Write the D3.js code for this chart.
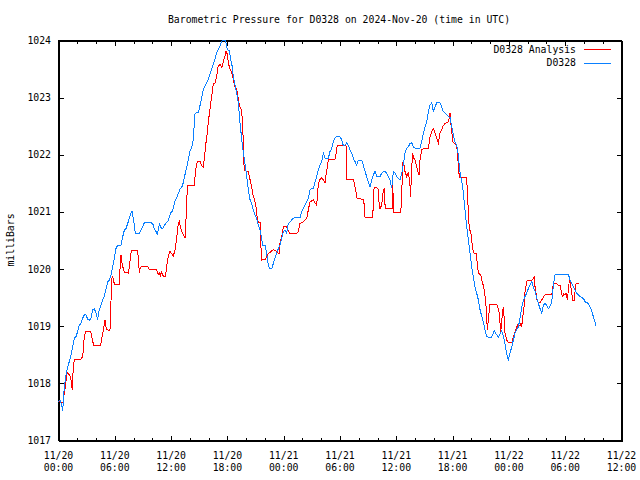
<!DOCTYPE html>
<html>
<head>
<meta charset="utf-8">
<script src="https://cdn.jsdelivr.net/npm/d3@7"></script>
<style>
html,body{margin:0;padding:0;background:#fff;}
svg{display:block;}
text{font-family:"DejaVu Sans Mono","Liberation Mono",monospace;font-size:9.8px;fill:#000;}
</style>
</head>
<body>
<script>
// ---- DATA ----
const chartTitle = "Barometric Pressure for D0328 on 2024-Nov-20 (time in UTC)";
const yLabel = "milliBars";
const seriesNames = ["D0328 Analysis", "D0328"];
const seriesColors = ["#ff0000", "#0a80ff"];
// x tick labels (every 6 hours from 11/20 00:00 UTC)
const xTickHours = [0, 6, 12, 18, 24, 30, 36, 42, 48, 54, 60];
const xTickDates = ["11/20","11/20","11/20","11/20","11/21","11/21","11/21","11/21","11/22","11/22","11/22"];
const xTickTimes = ["00:00","06:00","12:00","18:00","00:00","06:00","12:00","18:00","00:00","06:00","12:00"];
const yTicks = [1017, 1018, 1019, 1020, 1021, 1022, 1023, 1024];

// [hours since 11/20 00:00 UTC, pressure mb]
const analysis = [
[0.07,1017.67],[0.43,1017.66],[0.59,1017.65],[0.67,1017.88],[0.78,1017.91],[0.93,1018.14],[1.03,1018.17],
[1.35,1018.11],[1.42,1018.00],[1.52,1017.88],[1.63,1018.28],[1.74,1018.40],[2.42,1018.41],[2.63,1018.46],
[2.72,1018.63],[2.80,1018.81],[2.98,1018.90],[3.49,1018.90],[3.70,1018.72],[3.84,1018.65],[4.53,1018.65],
[4.66,1018.78],[4.85,1018.93],[5.01,1019.10],[5.09,1019.00],[5.19,1018.93],[5.49,1018.92],[5.60,1018.98],
[5.67,1019.63],[5.76,1019.85],[5.83,1019.86],[5.92,1019.80],[6.00,1019.73],[6.53,1019.73],[6.64,1020.09],
[6.71,1020.24],[6.80,1020.12],[6.87,1020.05],[7.07,1019.94],[7.51,1019.92],[7.67,1020.12],[7.81,1020.31],
[8.49,1020.31],[8.67,1019.93],[8.76,1020.01],[8.85,1020.03],[9.56,1020.04],[9.73,1019.99],[10.26,1019.98],
[10.52,1019.98],[10.66,1019.90],[10.80,1019.92],[10.90,1019.87],[11.03,1019.94],[11.22,1019.87],[11.46,1019.87],
[11.58,1020.05],[11.76,1020.22],[11.94,1020.31],[12.10,1020.26],[12.29,1020.22],[12.47,1020.33],[12.65,1020.54],
[12.82,1020.78],[12.93,1020.82],[13.06,1020.71],[13.27,1020.62],[13.54,1020.54],[13.64,1020.85],[13.72,1021.21],
[13.82,1021.45],[14.53,1021.45],[14.60,1021.60],[14.71,1021.77],[14.85,1021.88],[15.13,1021.88],[15.29,1021.81],
[15.49,1021.77],[15.59,1021.92],[15.77,1022.20],[15.91,1022.38],[16.02,1022.57],[16.20,1022.79],[16.38,1023.02],
[16.55,1023.23],[16.73,1023.25],[16.91,1023.37],[17.08,1023.55],[17.27,1023.57],[17.45,1023.52],[17.62,1023.62],
[17.80,1023.72],[17.91,1023.81],[18.04,1023.75],[18.15,1023.60],[18.33,1023.49],[18.51,1023.43],[18.68,1023.31],
[18.87,1023.17],[19.05,1023.14],[19.22,1022.96],[19.40,1022.82],[19.58,1022.78],[19.66,1022.51],[19.72,1022.32],
[19.78,1021.86],[19.93,1021.71],[20.28,1021.70],[20.46,1021.56],[20.64,1021.43],[20.81,1021.27],[21.00,1021.17],
[21.11,1021.08],[21.18,1020.94],[21.35,1020.80],[21.53,1020.80],[21.61,1020.44],[21.71,1020.15],[22.06,1020.16],
[22.24,1020.21],[22.41,1020.26],[22.78,1020.31],[22.95,1020.33],[23.24,1020.31],[23.48,1020.27],[23.59,1020.26],
[23.66,1020.44],[23.84,1020.56],[24.01,1020.73],[24.37,1020.73],[24.55,1020.65],[24.73,1020.61],[25.44,1020.61],
[25.61,1020.65],[25.79,1020.79],[26.14,1020.82],[26.51,1020.88],[26.68,1021.03],[26.86,1021.17],[27.21,1021.20],
[27.39,1021.15],[27.57,1021.11],[27.66,1021.29],[27.74,1021.49],[27.92,1021.56],[28.10,1021.59],[28.28,1021.55],
[28.46,1021.50],[28.56,1021.64],[28.70,1021.78],[28.81,1021.91],[29.52,1021.91],[29.70,1022.08],[29.77,1022.16],
[30.59,1022.16],[30.70,1022.14],[30.79,1021.56],[31.50,1021.56],[31.71,1021.38],[31.87,1021.23],[32.54,1021.21],
[32.64,1021.11],[32.72,1020.90],[33.54,1020.90],[33.68,1021.40],[33.79,1021.42],[34.00,1021.41],[34.14,1021.38],
[34.24,1021.08],[34.32,1021.05],[34.50,1021.11],[34.67,1021.38],[34.78,1021.39],[34.87,1021.05],[35.61,1021.05],
[35.68,1021.46],[35.76,1020.98],[36.52,1020.98],[36.63,1021.20],[36.70,1021.78],[36.80,1021.90],[36.88,1021.81],
[36.98,1021.70],[37.16,1021.61],[37.34,1021.69],[37.44,1021.55],[37.52,1021.43],[37.59,1021.26],[37.65,1021.64],
[37.70,1021.78],[37.80,1022.02],[37.89,1021.94],[38.05,1021.90],[38.23,1021.78],[38.37,1021.69],[38.49,1021.64],
[38.58,1021.90],[38.76,1022.08],[39.12,1022.11],[39.47,1022.11],[39.65,1022.31],[39.83,1022.40],[40.00,1022.45],
[40.18,1022.37],[40.36,1022.28],[40.53,1022.20],[40.71,1022.37],[40.89,1022.43],[41.06,1022.50],[41.25,1022.54],
[41.60,1022.57],[41.71,1022.64],[41.78,1022.72],[41.89,1022.51],[42.07,1022.22],[42.42,1022.16],[42.55,1022.08],
[42.66,1021.81],[42.77,1021.60],[43.48,1021.60],[43.62,1021.43],[43.73,1020.97],[43.84,1020.68],[43.99,1020.65],
[44.09,1020.50],[44.20,1020.33],[44.34,1020.27],[44.55,1020.27],[44.69,1020.09],[44.80,1019.92],[45.05,1019.89],
[45.16,1019.80],[45.27,1019.74],[45.41,1019.63],[45.51,1019.51],[45.62,1019.33],[45.69,1019.10],[45.76,1018.93],
[45.86,1019.10],[46.04,1019.38],[46.75,1019.38],[46.93,1019.30],[47.03,1019.22],[47.18,1018.87],[47.29,1019.10],
[47.46,1019.33],[47.56,1019.10],[47.64,1018.87],[47.82,1018.75],[47.99,1018.70],[48.36,1018.70],[48.53,1018.80],
[48.71,1018.89],[48.89,1018.98],[49.06,1019.03],[49.24,1018.99],[49.35,1019.05],[49.42,1018.98],[49.56,1019.19],
[49.67,1019.33],[49.77,1019.59],[49.95,1019.77],[50.02,1019.79],[50.49,1019.79],[50.66,1019.83],[50.74,1019.85],
[50.84,1019.68],[50.95,1019.57],[51.08,1019.42],[51.37,1019.40],[51.55,1019.45],[51.72,1019.50],[51.90,1019.54],
[52.62,1019.54],[52.73,1019.68],[52.90,1019.74],[53.15,1019.73],[53.33,1019.71],[53.51,1019.71],[53.69,1019.54],
[53.80,1019.51],[53.86,1019.57],[54.04,1019.54],[54.15,1019.57],[54.29,1019.45],[54.39,1019.63],[54.50,1019.80],
[54.59,1019.75],[54.68,1019.65],[54.86,1019.45],[55.00,1019.45],[55.10,1019.59],[55.21,1019.74],[55.56,1019.74]
];

const observed = [
[0.07,1017.67],[0.21,1017.70],[0.35,1017.64],[0.50,1017.51],[0.56,1017.65],[0.67,1017.93],[0.85,1018.14],
[1.03,1018.28],[1.20,1018.37],[1.39,1018.49],[1.57,1018.63],[1.74,1018.78],[1.92,1018.81],[2.10,1018.90],
[2.27,1019.01],[2.45,1019.04],[2.63,1019.13],[2.80,1019.19],[2.98,1019.19],[3.17,1019.11],[3.34,1019.10],
[3.52,1019.13],[3.70,1019.28],[3.87,1019.30],[4.05,1019.22],[4.23,1019.11],[4.40,1019.28],[4.58,1019.36],
[4.76,1019.45],[4.93,1019.51],[5.12,1019.65],[5.30,1019.77],[5.47,1019.80],[5.65,1019.89],[5.83,1020.03],
[6.00,1020.18],[6.18,1020.35],[6.36,1020.41],[6.71,1020.41],[6.90,1020.56],[7.07,1020.67],[7.25,1020.70],
[7.43,1020.79],[7.60,1020.88],[7.78,1020.97],[7.89,1021.00],[8.03,1020.88],[8.24,1020.62],[8.67,1020.62],
[8.85,1020.67],[9.20,1020.80],[9.91,1020.80],[10.09,1020.79],[10.26,1020.70],[10.44,1020.65],[10.60,1020.60],
[10.80,1020.78],[11.03,1020.70],[11.19,1020.71],[11.51,1020.80],[11.72,1020.83],[12.01,1020.98],[12.22,1021.01],
[12.47,1021.18],[12.72,1021.27],[13.00,1021.39],[13.18,1021.42],[13.35,1021.50],[13.54,1021.65],[13.72,1021.77],
[13.89,1021.91],[14.07,1022.06],[14.25,1022.12],[14.42,1022.26],[14.49,1022.44],[14.60,1022.70],[14.78,1022.73],
[14.95,1022.73],[15.13,1022.85],[15.32,1022.99],[15.49,1023.14],[15.67,1023.20],[15.85,1023.25],[16.02,1023.31],
[16.20,1023.40],[16.38,1023.49],[16.55,1023.57],[16.73,1023.66],[16.91,1023.78],[17.08,1023.84],[17.27,1023.90],
[17.45,1023.98],[17.62,1024.00],[17.80,1024.00],[17.91,1023.95],[18.04,1023.84],[18.26,1023.81],[18.41,1023.66],
[18.55,1023.55],[18.68,1023.37],[18.87,1023.20],[19.05,1023.07],[19.22,1022.90],[19.40,1022.55],[19.58,1022.26],
[19.75,1022.03],[19.93,1021.83],[20.11,1021.62],[20.28,1021.39],[20.46,1021.21],[20.64,1021.13],[20.81,1021.03],
[21.00,1020.94],[21.18,1020.87],[21.35,1020.76],[21.53,1020.68],[21.69,1020.54],[21.82,1020.41],[22.06,1020.41],
[22.24,1020.27],[22.41,1020.06],[22.59,1020.00],[22.78,1020.00],[22.95,1020.09],[23.13,1020.18],[23.31,1020.27],
[23.48,1020.35],[23.66,1020.41],[23.84,1020.53],[24.01,1020.65],[24.19,1020.67],[24.37,1020.62],[24.55,1020.79],
[24.73,1020.82],[24.91,1020.85],[25.08,1020.88],[25.26,1020.89],[25.79,1020.89],[25.97,1021.00],[26.14,1021.05],
[26.33,1021.11],[26.51,1021.17],[26.68,1021.23],[26.86,1021.38],[27.04,1021.40],[27.21,1021.40],[27.39,1021.52],
[27.57,1021.61],[27.74,1021.73],[27.92,1021.81],[28.10,1021.87],[28.28,1022.02],[28.46,1021.93],[28.81,1021.93],
[28.99,1022.05],[29.17,1022.10],[29.34,1022.22],[29.52,1022.28],[29.70,1022.31],[29.87,1022.32],[30.05,1022.31],
[30.24,1022.25],[30.41,1022.15],[30.59,1022.16],[30.77,1022.20],[30.94,1022.15],[31.12,1022.08],[31.30,1022.02],
[31.47,1021.93],[31.66,1021.87],[31.84,1021.81],[32.01,1021.90],[32.37,1021.90],[32.54,1021.81],[32.72,1021.70],
[32.90,1021.61],[33.07,1021.52],[33.25,1021.43],[33.43,1021.55],[33.60,1021.64],[33.79,1021.70],[33.97,1021.61],
[34.32,1021.61],[34.50,1021.67],[34.67,1021.70],[34.85,1021.70],[35.03,1021.67],[35.20,1021.61],[35.38,1021.55],
[35.57,1021.41],[35.74,1021.70],[35.92,1021.67],[36.10,1021.61],[36.27,1021.58],[36.45,1021.55],[36.63,1021.67],
[36.74,1021.76],[36.88,1021.90],[36.98,1022.02],[37.16,1022.11],[37.34,1022.13],[37.52,1022.19],[37.70,1022.20],
[37.87,1022.13],[38.05,1022.11],[38.58,1022.11],[38.76,1022.22],[38.93,1022.37],[39.12,1022.48],[39.30,1022.57],
[39.47,1022.75],[39.65,1022.86],[39.83,1022.90],[40.00,1022.75],[40.18,1022.83],[40.36,1022.90],[40.71,1022.90],
[40.89,1022.83],[41.06,1022.75],[41.43,1022.69],[41.60,1022.66],[41.78,1022.64],[41.96,1022.48],[42.13,1022.34],
[42.31,1022.22],[42.49,1022.16],[42.66,1021.99],[42.77,1021.78],[42.92,1021.61],[43.13,1021.43],[43.27,1021.20],
[43.41,1020.97],[43.56,1020.73],[43.73,1020.50],[43.91,1020.27],[44.09,1020.03],[44.26,1019.86],[44.44,1019.68],
[44.62,1019.57],[44.80,1019.45],[44.98,1019.28],[45.16,1019.16],[45.33,1019.07],[45.51,1018.93],[45.69,1018.81],
[45.86,1018.80],[46.22,1018.80],[46.36,1018.86],[46.50,1018.91],[46.68,1018.86],[46.93,1018.80],[47.11,1018.86],
[47.29,1018.91],[47.43,1018.84],[47.57,1018.75],[47.75,1018.58],[47.89,1018.46],[47.99,1018.40],[48.17,1018.52],
[48.36,1018.63],[48.53,1018.75],[48.71,1018.87],[48.89,1018.93],[49.06,1018.98],[49.24,1019.13],[49.42,1019.33],
[49.59,1019.44],[49.77,1019.51],[49.95,1019.57],[50.13,1019.65],[50.31,1019.71],[50.49,1019.77],[50.66,1019.68],
[50.84,1019.60],[51.02,1019.48],[51.19,1019.39],[51.37,1019.30],[51.55,1019.22],[51.72,1019.36],[51.90,1019.39],
[52.08,1019.36],[52.26,1019.30],[52.44,1019.34],[52.62,1019.42],[52.79,1019.71],[52.97,1019.89],[53.15,1019.90],
[54.39,1019.90],[54.57,1019.80],[54.75,1019.74],[54.92,1019.68],[55.10,1019.63],[55.28,1019.57],[55.46,1019.54],
[55.64,1019.51],[55.81,1019.49],[55.99,1019.48],[56.17,1019.42],[56.52,1019.39],[56.70,1019.33],[56.88,1019.26],
[57.05,1019.16],[57.23,1019.07],[57.34,1019.00]
];

// ---- CHART ----
const W = 640, H = 480;
const PL = 58, PR = 621, PT = 40, PB = 440;
const svg = d3.select("body").append("svg").attr("width", W).attr("height", H);
svg.append("rect").attr("width", W).attr("height", H).attr("fill", "#fff");

const x = d3.scaleLinear().domain([0, 60]).range([PL, PR]);
const y = d3.scaleLinear().domain([1017, 1024]).range([PB, PT]);

const gAx = svg.append("g").attr("shape-rendering", "crispEdges");
const minorHours = d3.range(0, 61, 2).filter(h => h % 6 !== 0);

gAx.append("g").attr("transform", `translate(0.5,${PB + 0.5})`)
  .call(d3.axisBottom(x).tickValues(xTickHours).tickSize(-5).tickFormat(""));
gAx.append("g").attr("transform", `translate(0.5,${PB + 0.5})`)
  .call(d3.axisBottom(x).tickValues(minorHours).tickSize(-3).tickFormat(""));
gAx.append("g").attr("transform", `translate(0.5,${PT + 0.5})`)
  .call(d3.axisTop(x).tickValues(xTickHours).tickSize(-5).tickFormat(""));
gAx.append("g").attr("transform", `translate(0.5,${PT + 0.5})`)
  .call(d3.axisTop(x).tickValues(minorHours).tickSize(-3).tickFormat(""));
gAx.append("g").attr("transform", `translate(${PL + 0.5},0.5)`)
  .call(d3.axisLeft(y).tickValues(yTicks).tickSize(-5).tickFormat(""));
gAx.append("g").attr("transform", `translate(${PR + 0.5},0.5)`)
  .call(d3.axisRight(y).tickValues(yTicks).tickSize(-5).tickFormat(""));
gAx.selectAll("path.domain").attr("stroke", "#000");
gAx.selectAll(".tick line").attr("stroke", "#000");

gAx.append("rect").attr("x", PL + 0.5).attr("y", PT + 0.5).attr("width", PR - PL).attr("height", PB - PT)
  .attr("fill", "none").attr("stroke", "#000");

// x tick labels (two lines)
const xl = svg.append("g");
xTickHours.forEach((h, i) => {
  const t = xl.append("text").attr("text-anchor", "middle");
  t.append("tspan").attr("x", x(h) + 0.5).attr("y", 459).text(xTickDates[i]);
  t.append("tspan").attr("x", x(h) + 0.5).attr("y", 471).text(xTickTimes[i]);
});
// y tick labels
svg.append("g").selectAll("text").data(yTicks).join("text")
  .attr("x", 51).attr("y", d => y(d) + 4).attr("text-anchor", "end").text(d => d);

// title and y label
svg.append("text").attr("x", 339).attr("y", 23).attr("text-anchor", "middle").text(chartTitle);
svg.append("text").attr("transform", "translate(14,240) rotate(-90)").attr("text-anchor", "middle").text(yLabel);

// lines
svg.append("clipPath").attr("id", "clip").append("rect")
  .attr("x", PL).attr("y", PT - 1).attr("width", PR - PL + 1).attr("height", PB - PT + 2);
const line = d3.line().x(d => x(d[0])).y(d => y(d[1]));
const gLines = svg.append("g").attr("clip-path", "url(#clip)");
[analysis, observed].forEach((s, i) => {
  gLines.append("path").datum(s).attr("d", line).attr("fill", "none")
    .attr("stroke", seriesColors[i]).attr("stroke-width", 1)
    .attr("shape-rendering", "crispEdges").attr("stroke-linejoin", "miter");
});

// legend
const lg = svg.append("g");
seriesNames.forEach((n, i) => {
  const yy = 49 + i * 13.5;
  lg.append("text").attr("x", 576).attr("y", yy + 3.5).attr("text-anchor", "end").text(n);
  lg.append("rect").attr("x", 584).attr("y", Math.round(yy)).attr("width", 27).attr("height", 1)
    .attr("fill", seriesColors[i]).attr("shape-rendering", "crispEdges");
});
</script>
</body>
</html>
